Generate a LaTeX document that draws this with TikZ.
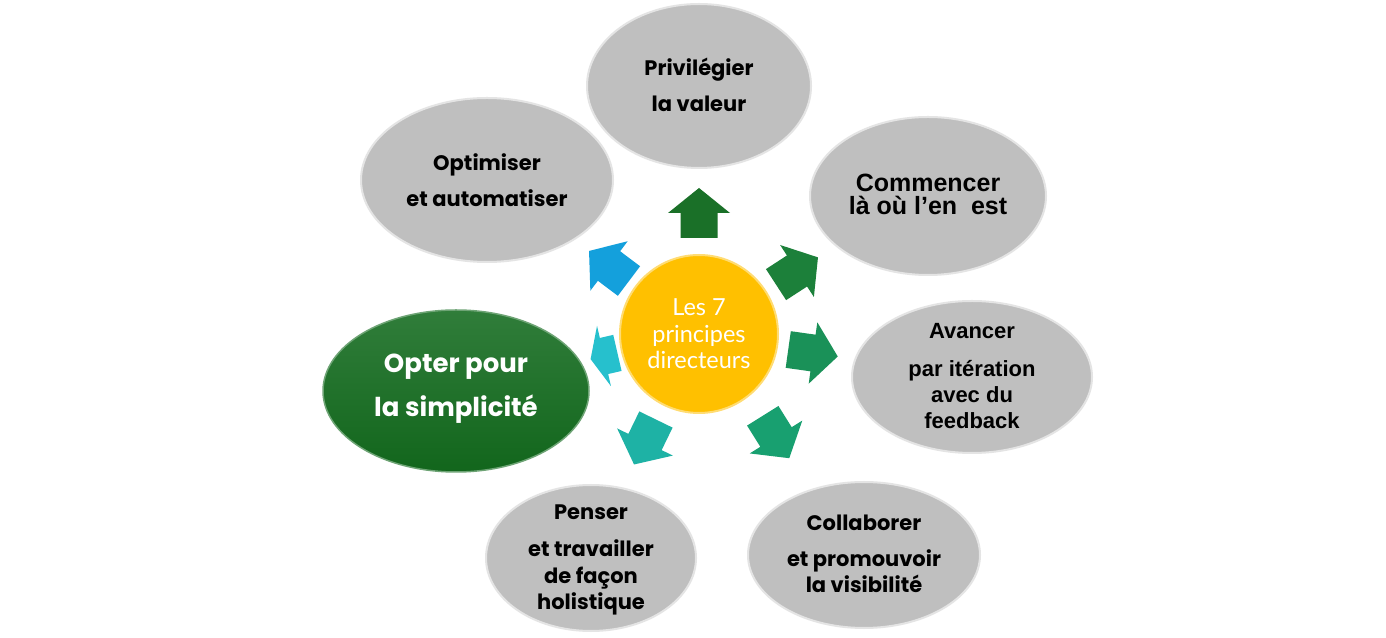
\documentclass[tikz,border=0pt]{standalone}
\usepackage{fontspec}
\setmainfont{Liberation Sans}
\newfontfamily\pop{Poppins}
\newfontfamily\lat{Lato}
\usetikzlibrary{shapes.geometric}
\definecolor{ellgray}{RGB}{191,191,191}
\definecolor{rimgray}{RGB}{228,228,228}
\definecolor{yel}{RGB}{255,192,0}
\definecolor{gtop}{RGB}{48,125,58}
\definecolor{gbot}{RGB}{18,102,28}
\definecolor{acA}{RGB}{26,112,40}
\definecolor{acB}{RGB}{28,128,58}
\definecolor{acC}{RGB}{26,145,88}
\definecolor{acD}{RGB}{24,160,112}
\definecolor{acE}{RGB}{30,178,165}
\definecolor{acF}{RGB}{38,192,205}
\definecolor{acG}{RGB}{20,160,220}
\tikzset{
  grayell/.style={ellipse, fill=ellgray, draw=rimgray, line width=2pt, inner sep=0pt},
  popl/.style={align=center, text=black, font=\pop\bfseries\fontsize{21}{36}\selectfont, inner sep=0pt},
  arl/.style={align=center, text=black, font=\bfseries\fontsize{22}{26}\selectfont, inner sep=0pt},
  blockarrow/.pic={
    \path[pic actions] (-25,-18.5) -- (0,-18.5) -- (0,-31) -- (25,0) -- (0,31) -- (0,18.5) -- (-25,18.5) -- cycle;
  }
}
\begin{document}
\begin{tikzpicture}[x=1pt,y=1pt]
\useasboundingbox (0,0) rectangle (1386,637);
\fill[white] (0,0) rectangle (1386,637);

% ellipses
\node[grayell, minimum width=224, minimum height=164] (eval) at (699,551) {};
\node[grayell, minimum width=236, minimum height=158] (ecom) at (928,441) {};
\node[grayell, minimum width=240, minimum height=152] (eava) at (972,260) {};
\node[grayell, minimum width=232, minimum height=146] (ecol) at (864,82) {};
\node[grayell, minimum width=210, minimum height=146] (epen) at (591,79) {};
\node[ellipse, inner sep=0pt, top color=gtop, bottom color=gbot, draw=gtop!70!white, line width=1.5pt, minimum width=266, minimum height=162] (eopt) at (456,246) {};
\node[grayell, minimum width=252, minimum height=164] (eaut) at (487,457) {};
\node[circle, fill=yel, draw=yel!55!white, line width=2pt, minimum size=158, inner sep=0pt] (ctr) at (699,303) {};

% texts
\node[popl] (tval) at ([yshift=1]eval.center) {Privilégier\\la valeur};
\node[popl] (taut) at ([yshift=0]eaut.center) {Optimiser\\et automatiser};
\node[arl, font=\bfseries\fontsize{25}{23}\selectfont] (tcom) at ([yshift=2]ecom.center) {Commencer\\là où l’en\ \ est};
\node[arl] (tava) at ([yshift=1]eava.center) {Avancer\\[12pt]par itération\\avec du\\feedback};
\node[popl, font=\pop\bfseries\fontsize{21}{26}\selectfont] (tcol) at ([yshift=1]ecol.center) {Collaborer\\[10pt]et promouvoir\\la visibilité};
\node[popl, font=\pop\bfseries\fontsize{21}{26.5}\selectfont] (tpen) at ([yshift=-2]epen.center) {Penser\\[10.5pt]et travailler\\de façon\\holistique};
\node[popl, text=white, font=\pop\bfseries\fontsize{26}{44}\selectfont] (topt) at ([yshift=2]eopt.center) {Opter pour\\la simplicité};
\node[align=center, text=white, font=\lat\fontsize{23.5}{26.5}\selectfont, inner sep=0pt] (tctr) at (ctr.center) {Les 7\\principes\\directeurs};

% arrows
\pic[shift={(699,424)}, rotate=90, fill=acA] {blockarrow};
\pic[shift={(797,366)}, rotate=33, fill=acB] {blockarrow};
\pic[shift={(813,284)}, rotate=-8, fill=acC] {blockarrow};
\pic[shift={(776,200)}, rotate=-58, fill=acD] {blockarrow};
\pic[shift={(645,195)}, rotate=-116, fill=acE] {blockarrow};
\pic[shift={(604,281)}, rotate=-167, xscale=0.55, fill=acF] {blockarrow};
\pic[shift={(609,371)}, rotate=143, fill=acG] {blockarrow};
\end{tikzpicture}
\end{document}
